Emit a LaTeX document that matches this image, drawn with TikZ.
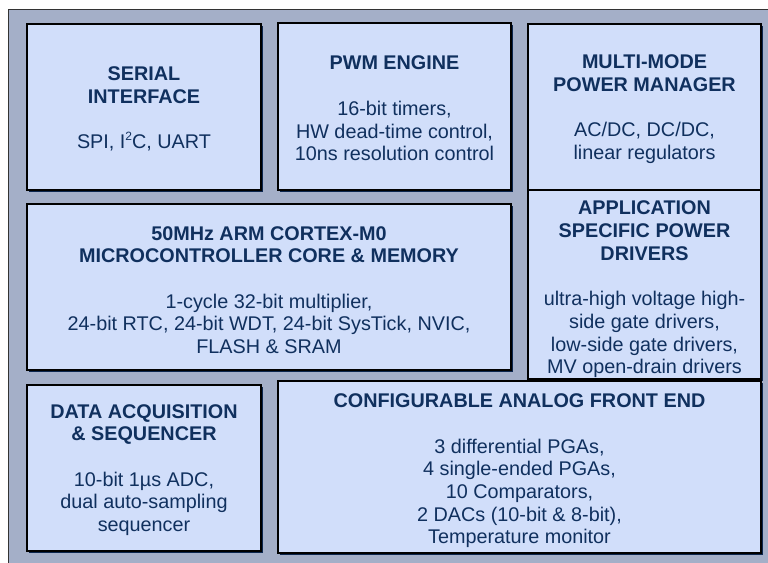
\documentclass[tikz,border=0pt]{standalone}
\usepackage{fontspec}
\setmainfont{Liberation Sans}
\usetikzlibrary{shadows}
\definecolor{framefill}{RGB}{164,175,200}
\definecolor{boxfill}{RGB}{209,222,250}
\definecolor{txtc}{RGB}{16,48,94}
\definecolor{shadowc}{RGB}{12,38,78}
\newcommand{\blkfont}{\fontsize{19.8}{22.7}\selectfont}
\newcommand{\supii}{\raisebox{0.42em}{\fontsize{12}{12}\selectfont 2}}
\tikzset{
  blk/.style={draw=black, line width=1.1pt, fill=boxfill,
    drop shadow={shadow xshift=2pt, shadow yshift=-2pt, fill=shadowc, opacity=1},
    inner sep=0pt},
  blktext/.style={inner sep=0pt, align=center, text=txtc, font=\blkfont},
}
\begin{document}
\begin{tikzpicture}[x=1pt,y=-1pt]
\useasboundingbox (0,0) rectangle (768,562);
\fill[white] (0,0) rectangle (768,562);
\draw[fill=framefill, draw=black!80, line width=1pt] (8,9) rectangle (780,575);

\node[blk, minimum width=234pt, minimum height=166pt] (ser) at (144,107) {};
\node[blk, minimum width=233pt, minimum height=167pt] (pwm) at (394.5,106.5) {};
\node[blk, minimum width=233pt, minimum height=166pt] (pow) at (644.5,107) {};
\node[blk, minimum width=484pt, minimum height=166pt] (arm) at (269,287) {};
\node[blk, minimum width=233pt, minimum height=189pt] (app) at (644.5,284.5) {};
\node[blk, minimum width=234pt, minimum height=166pt] (dat) at (144,468) {};
\node[blk, minimum width=483pt, minimum height=172pt] (afe) at (519.5,467) {};

\node[blktext] (ser-t) at ([yshift=-2pt]ser.center)
  {\textbf{SERIAL}\\\textbf{INTERFACE}\\[22.7pt]SPI, I\supii C, UART};
\node[blktext] (pwm-t) at ([yshift=-2pt]pwm.center)
  {\textbf{PWM ENGINE}\\[22.7pt]16-bit timers,\\HW dead-time control,\\10ns resolution control};
\node[blktext] (pow-t) at ([yshift=-2pt]pow.center)
  {\textbf{MULTI-MODE}\\\textbf{POWER MANAGER}\\[22.7pt]AC/DC, DC/DC,\\linear regulators};
\node[blktext] (arm-t) at ([yshift=-3pt]arm.center)
  {\textbf{50MHz ARM CORTEX-M0}\\\textbf{MICROCONTROLLER CORE \& MEMORY}\\[22.7pt]1-cycle 32-bit multiplier,\\24-bit RTC, 24-bit WDT, 24-bit SysTick, NVIC,\\FLASH \& SRAM};
\node[blktext] (app-t) at ([yshift=-5pt]app.center)
  {\textbf{APPLICATION}\\\textbf{SPECIFIC POWER}\\\textbf{DRIVERS}\\[22.7pt]ultra-high voltage high-\\side gate drivers,\\low-side gate drivers,\\MV open-drain drivers};
\node[blktext] (dat-t) at ([yshift=-2pt]dat.center)
  {\textbf{DATA ACQUISITION}\\\textbf{\& SEQUENCER}\\[22.7pt]10-bit 1µs ADC,\\dual auto-sampling\\sequencer};
\node[blktext] (afe-t) at ([yshift=-4pt]afe.center)
  {\textbf{CONFIGURABLE ANALOG FRONT END}\\[22.7pt]3 differential PGAs,\\4 single-ended PGAs,\\10 Comparators,\\2 DACs (10-bit \& 8-bit),\\Temperature monitor};
\end{tikzpicture}
\end{document}
